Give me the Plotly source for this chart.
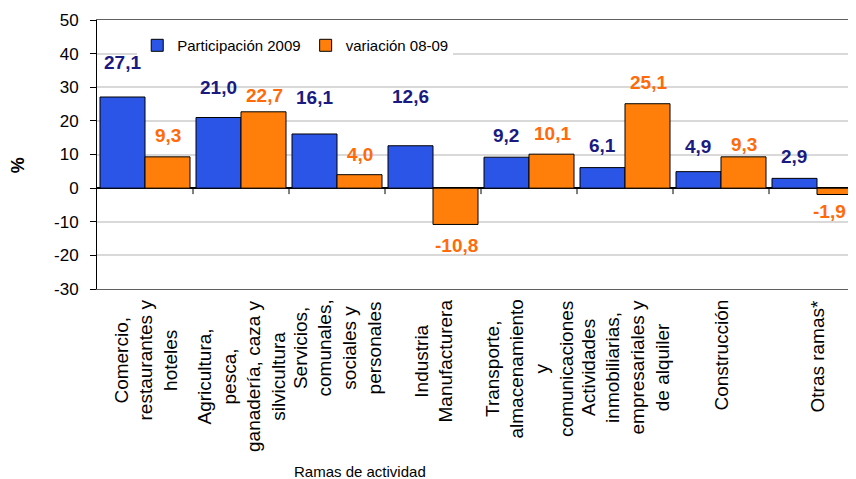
import plotly.graph_objects as go

categories = [
    "Comercio,<br>restaurantes y<br>hoteles",
    "Agricultura,<br>pesca,<br>ganadería, caza y<br>silvicultura",
    "Servicios,<br>comunales,<br>sociales y<br>personales",
    "Industria<br>Manufacturera",
    "Transporte,<br>almacenamiento<br>y<br>comunicaciones",
    "Actividades<br>inmobiliarias,<br>empresariales y<br>de alquiler",
    "Construcción",
    "Otras ramas*",
]
participacion_2009 = [27.1, 21.0, 16.1, 12.6, 9.2, 6.1, 4.9, 2.9]
variacion_08_09 = [9.3, 22.7, 4.0, -10.8, 10.1, 25.1, 9.3, -1.9]
y_ticks = [50, 40, 30, 20, 10, 0, -10, -20, -30]

# label offsets from bar end (px) - styling only
blue_label_gap = [35, 30, 36, 49, 22, 22, 25, 22]
orange_label_gap = [21, 16, 20, 21, 21, 21, 12, 17]
orange_label_dx = [0, 0, 0, 0, 0, 0, 0, -11]

FONT = "Arial, Liberation Sans, sans-serif"
BLUE = "#2B55E6"
ORANGE = "#FF7F0A"
BLUE_TXT = "#1A1A80"
ORANGE_TXT = "#FF6A0A"

xs = list(range(len(categories)))

fig = go.Figure()
fig.add_trace(go.Bar(
    x=xs, y=participacion_2009, name="Participación 2009",
    marker=dict(color=BLUE, line=dict(color="#000000", width=1)),
))
fig.add_trace(go.Bar(
    x=xs, y=variacion_08_09, name="variación 08-09",
    marker=dict(color=ORANGE, line=dict(color="#000000", width=1)),
))

def fmt(v):
    return f"{v:.1f}".replace(".", ",")

annotations = []
for i, v in enumerate(participacion_2009):
    g = blue_label_gap[i]
    annotations.append(dict(
        x=i, y=v, xref="x", yref="y", text=fmt(v), showarrow=False,
        xshift=-23, yshift=g if v >= 0 else -g, yanchor="middle",
        font=dict(family=FONT, size=19, color=BLUE_TXT, weight="bold"),
    ))
for i, v in enumerate(variacion_08_09):
    g = orange_label_gap[i]
    annotations.append(dict(
        x=i, y=v, xref="x", yref="y", text=fmt(v), showarrow=False,
        xshift=23 + orange_label_dx[i], yshift=g if v >= 0 else -g, yanchor="middle",
        font=dict(family=FONT, size=19, color=ORANGE_TXT, weight="bold"),
    ))
# category labels (rotated, centred lines)
for i, c in enumerate(categories):
    annotations.append(dict(
        x=i, y=0, xref="x", yref="paper", text=c, showarrow=False,
        textangle=-90, align="center", xanchor="center", yanchor="top",
        yshift=-9,
        font=dict(family=FONT, size=19, color="#000000"),
    ))
# axis titles
annotations.append(dict(
    x=0, y=0.46, xref="paper", yref="paper", xshift=-79, text="<b>%</b>",
    showarrow=False, textangle=-90, xanchor="center", yanchor="middle",
    font=dict(family=FONT, size=18, color="#000000"),
))
annotations.append(dict(
    x=0.347, y=0, xref="paper", yref="paper", yshift=-172, text="Ramas de actividad",
    showarrow=False, xanchor="center", yanchor="top",
    font=dict(family=FONT, size=15, color="#000000"),
))

shapes = []
for k in range(len(categories) - 1):
    shapes.append(dict(
        type="line", xref="x", yref="y", x0=k + 0.5, x1=k + 0.5,
        ysizemode="pixel", yanchor=0, y0=0, y1=-6,
        line=dict(color="#000000", width=1),
    ))

# page body has an 8px margin: figure spans page x 8..856, y 8..479
fig.update_layout(
    width=848, height=471,
    margin=dict(l=89, r=0, t=12, b=190),
    paper_bgcolor="#FFFFFF", plot_bgcolor="#FFFFFF",
    barmode="group", bargap=0.0625, bargroupgap=0,
    font=dict(family=FONT, size=16, color="#000000"),
    showlegend=True,
    legend=dict(
        orientation="h", x=0.053, y=0.905, xanchor="left", yanchor="middle",
        bgcolor="#FFFFFF", font=dict(family=FONT, size=15, color="#000000"),
        itemwidth=30, tracegroupgap=0,
    ),
    xaxis=dict(
        range=[-0.5, -0.5 + 759 / 96], showticklabels=False, ticks="",
        showgrid=False, showline=True, mirror=True, linecolor="#606060",
        linewidth=1, zeroline=False, fixedrange=True,
    ),
    yaxis=dict(
        range=[-30, 50], tickvals=y_ticks, ticktext=[str(t) for t in y_ticks],
        ticks="outside", ticklen=6, tickcolor="#000000",
        showline=True, linecolor="#000000", linewidth=1,
        showgrid=True, gridcolor="#D9D9D9", gridwidth=1.5,
        zeroline=True, zerolinecolor="#000000", zerolinewidth=1.5,
        ticklabelstandoff=8, tickfont=dict(family=FONT, size=17, color="#000000"),
    ),
    annotations=annotations,
    shapes=shapes,
)

fig.write_html("out.html")
